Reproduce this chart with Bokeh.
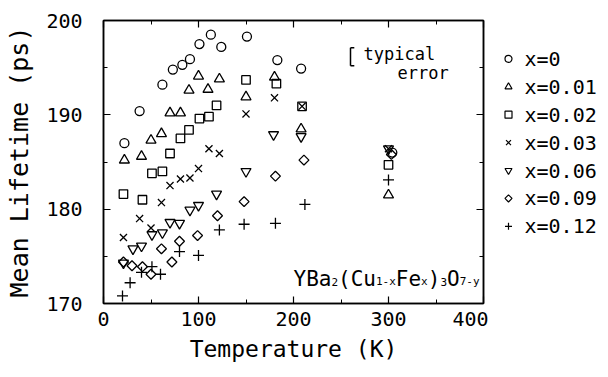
from bokeh.plotting import figure
from bokeh.layouts import row
from bokeh.models import (ColumnDataSource, LinearAxis, SingleIntervalTicker, Range1d)
from bokeh.core.properties import value
from bokeh.embed import file_html
from bokeh.resources import INLINE
import math

FONT = "DejaVu Sans Mono"

# ---------------- data ----------------
labels = ["x=0", "x=0.01", "x=0.02", "x=0.03", "x=0.06", "x=0.09", "x=0.12"]

T_x000 = [22, 38, 62, 73, 83, 91, 101, 113, 124, 151, 183, 208, 304]
LT_x000 = [187.0, 190.4, 193.2, 194.8, 195.3, 195.9, 197.5, 198.5, 197.2, 198.3, 195.8, 194.9, 186.0]

T_x001 = [22, 40, 50, 61, 70, 81, 90, 100, 110, 122, 150, 180, 208, 300]
LT_x001 = [185.2, 185.6, 187.3, 188.0, 190.2, 190.2, 192.6, 194.1, 192.7, 193.8, 191.9, 194.0, 188.5, 181.5]

T_x002 = [21, 41, 51, 62, 70, 81, 90, 101, 111, 119, 150, 182, 209, 300]
LT_x002 = [181.6, 181.0, 183.8, 184.0, 185.9, 187.5, 188.4, 189.6, 189.8, 191.0, 193.7, 193.3, 190.9, 184.7]

T_x003 = [21, 38, 50, 61, 70, 81, 91, 100, 111, 122, 150, 180, 209, 300]
LT_x003 = [177.0, 179.0, 178.0, 180.7, 182.5, 183.2, 183.3, 184.3, 186.4, 185.9, 190.1, 191.8, 190.9, 186.4]

T_x006 = [21, 31, 40, 51, 62, 70, 80, 91, 100, 119, 150, 179, 208, 300]
LT_x006 = [174.3, 175.8, 176.1, 177.3, 177.5, 178.6, 178.5, 179.9, 180.4, 181.6, 184.0, 187.9, 187.7, 186.4]

T_x009 = [21, 30, 41, 50, 61, 72, 80, 99, 120, 148, 181, 211, 303]
LT_x009 = [174.4, 174.0, 173.9, 173.1, 175.8, 174.4, 176.6, 177.2, 179.3, 180.8, 183.5, 185.2, 185.8]

T_x012 = [20, 28, 40, 51, 60, 80, 100, 122, 148, 181, 212, 300]
LT_x012 = [170.8, 172.2, 173.3, 173.9, 173.1, 175.5, 175.1, 177.8, 178.4, 178.5, 180.5, 183.1]

# typical error bar
err_T = [260]
err_lo = [195.2]
err_hi = [197.1]
err_cap = [4]

x_ticks_major = 100
y_ticks_major = 10

markers = ["circle", "triangle", "square", "x", "inverted_triangle", "square", "cross"]
sizes = [9, 10, 8.5, 10, 10, 7, 11]
angles = [0, 0, 0, 0, 0, math.pi / 4, 0]
Ts = [T_x000, T_x001, T_x002, T_x003, T_x006, T_x009, T_x012]
LTs = [LT_x000, LT_x001, LT_x002, LT_x003, LT_x006, LT_x009, LT_x012]

H = 369
MAIN_W = 488
TOTAL_W = 600

# ---------------- main figure ----------------
p = figure(width=MAIN_W, height=H, x_range=Range1d(0, 400), y_range=Range1d(170, 200),
           output_backend="svg", toolbar_location=None,
           min_border_left=103, min_border_right=5, min_border_top=20, min_border_bottom=66,
           x_axis_label="Temperature (K)", y_axis_label="Mean Lifetime (ps)")
p.xgrid.visible = False
p.ygrid.visible = False
p.outline_line_color = "black"
p.outline_line_width = 1.5
p.background_fill_color = "white"
p.border_fill_color = "white"

p.xaxis.ticker = SingleIntervalTicker(interval=x_ticks_major, num_minor_ticks=2)
p.yaxis.ticker = SingleIntervalTicker(interval=y_ticks_major, num_minor_ticks=2)


def style_axis(ax, labels_on=True):
    ax.axis_line_color = "black"
    ax.axis_line_width = 1.5
    ax.major_tick_in = 7
    ax.major_tick_out = 0
    ax.minor_tick_in = 4
    ax.minor_tick_out = 0
    ax.major_tick_line_width = 1.2
    ax.minor_tick_line_width = 1
    ax.major_tick_line_color = "black"
    ax.minor_tick_line_color = "black"
    ax.major_label_text_font = FONT
    ax.major_label_text_color = "black"
    ax.axis_label_text_font = FONT
    ax.axis_label_text_font_style = "normal"
    ax.axis_label_text_color = "black"
    if not labels_on:
        ax.major_label_text_color = None
        ax.major_label_text_font_size = "1px"
        ax.major_label_standoff = 0


for ax in p.xaxis:
    style_axis(ax)
    ax.major_label_text_font_size = "20px"
    ax.major_label_standoff = 8
    ax.axis_label_text_font_size = "23px"
    ax.axis_label_standoff = 7
for ax in p.yaxis:
    style_axis(ax)
    ax.major_label_text_font_size = "20px"
    ax.major_label_standoff = 21
    ax.axis_label_text_font_size = "25px"
    ax.axis_label_standoff = 9

top = LinearAxis(ticker=SingleIntervalTicker(interval=x_ticks_major, num_minor_ticks=2))
style_axis(top, labels_on=False)
p.add_layout(top, "above")
right = LinearAxis(ticker=SingleIntervalTicker(interval=y_ticks_major, num_minor_ticks=2))
style_axis(right, labels_on=False)
p.add_layout(right, "right")

# ---------------- data marks ----------------
for tx, ly, mk, sz, ang in zip(Ts, LTs, markers, sizes, angles):
    src = ColumnDataSource(dict(T=tx, LT=ly))
    p.scatter("T", "LT", source=src, marker=mk, size=sz, angle=ang,
              fill_color=None, line_color="black", line_width=1.3)

# typical error bar
esrc = ColumnDataSource(dict(T=err_T, lo=err_lo, hi=err_hi,
                             Tc=[t + c for t, c in zip(err_T, err_cap)]))
p.segment(x0="T", y0="lo", x1="T", y1="hi", source=esrc, line_color="black", line_width=1.5)
p.segment(x0="T", y0="lo", x1="Tc", y1="lo", source=esrc, line_color="black", line_width=1.5)
p.segment(x0="T", y0="hi", x1="Tc", y1="hi", source=esrc, line_color="black", line_width=1.5)

p.text(x=[273.7], y=[196.5], text=["typical"], text_font=value(FONT),
       text_font_size="17px", text_baseline="alphabetic", text_color="black")
p.text(x=[309.5], y=[194.4], text=["error"], text_font=value(FONT),
       text_font_size="17px", text_baseline="alphabetic", text_color="black")

# formula YBa2(Cu1-xFex)3O7-y
pieces = [("YBa", False), ("2", True), ("(Cu", False), ("1-x", True), ("Fe", False),
          ("x", True), (")", False), ("3", True), ("O", False), ("7-y", True)]
big, small = 21, 11
adv_big, adv_small = 0.602 * big, 0.602 * small
off = 0.0
for txt, sub in pieces:
    fs = small if sub else big
    p.text(x=[200], y=[172.6], text=[txt], text_font=value(FONT),
           text_font_size=f"{fs}px", text_baseline="alphabetic", text_color="black",
           x_offset=off, y_offset=3 if sub else 0)
    off += len(txt) * (adv_small if sub else adv_big)

# ---------------- legend panel (pixel coordinates, y downward) ----------------
LW = TOTAL_W - MAIN_W
lg = figure(width=LW, height=H, x_range=Range1d(0, LW), y_range=Range1d(H, 0),
            output_backend="svg", toolbar_location=None,
            min_border=0, x_axis_location=None, y_axis_location=None)
lg.xgrid.visible = False
lg.ygrid.visible = False
lg.outline_line_color = None
lg.background_fill_color = "white"
lg.border_fill_color = "white"

row0, pitch = 50, 36.4
mark_x, text_x = 20, 36
for i, (mk, ang, lab) in enumerate(zip(markers, angles, labels)):
    ry = row0 + pitch * i
    lsz = 5 if mk == "square" and ang else 7
    lg.scatter(x=[mark_x], y=[ry], marker=mk, size=lsz, angle=ang,
               fill_color=None, line_color="black", line_width=1.2)
    lg.text(x=[text_x], y=[ry], text=[lab], text_font=value(FONT),
            text_font_size="20px", text_baseline="middle", text_color="black")

layout = row(p, lg)
open("out.html", "w").write(file_html(layout, INLINE))
